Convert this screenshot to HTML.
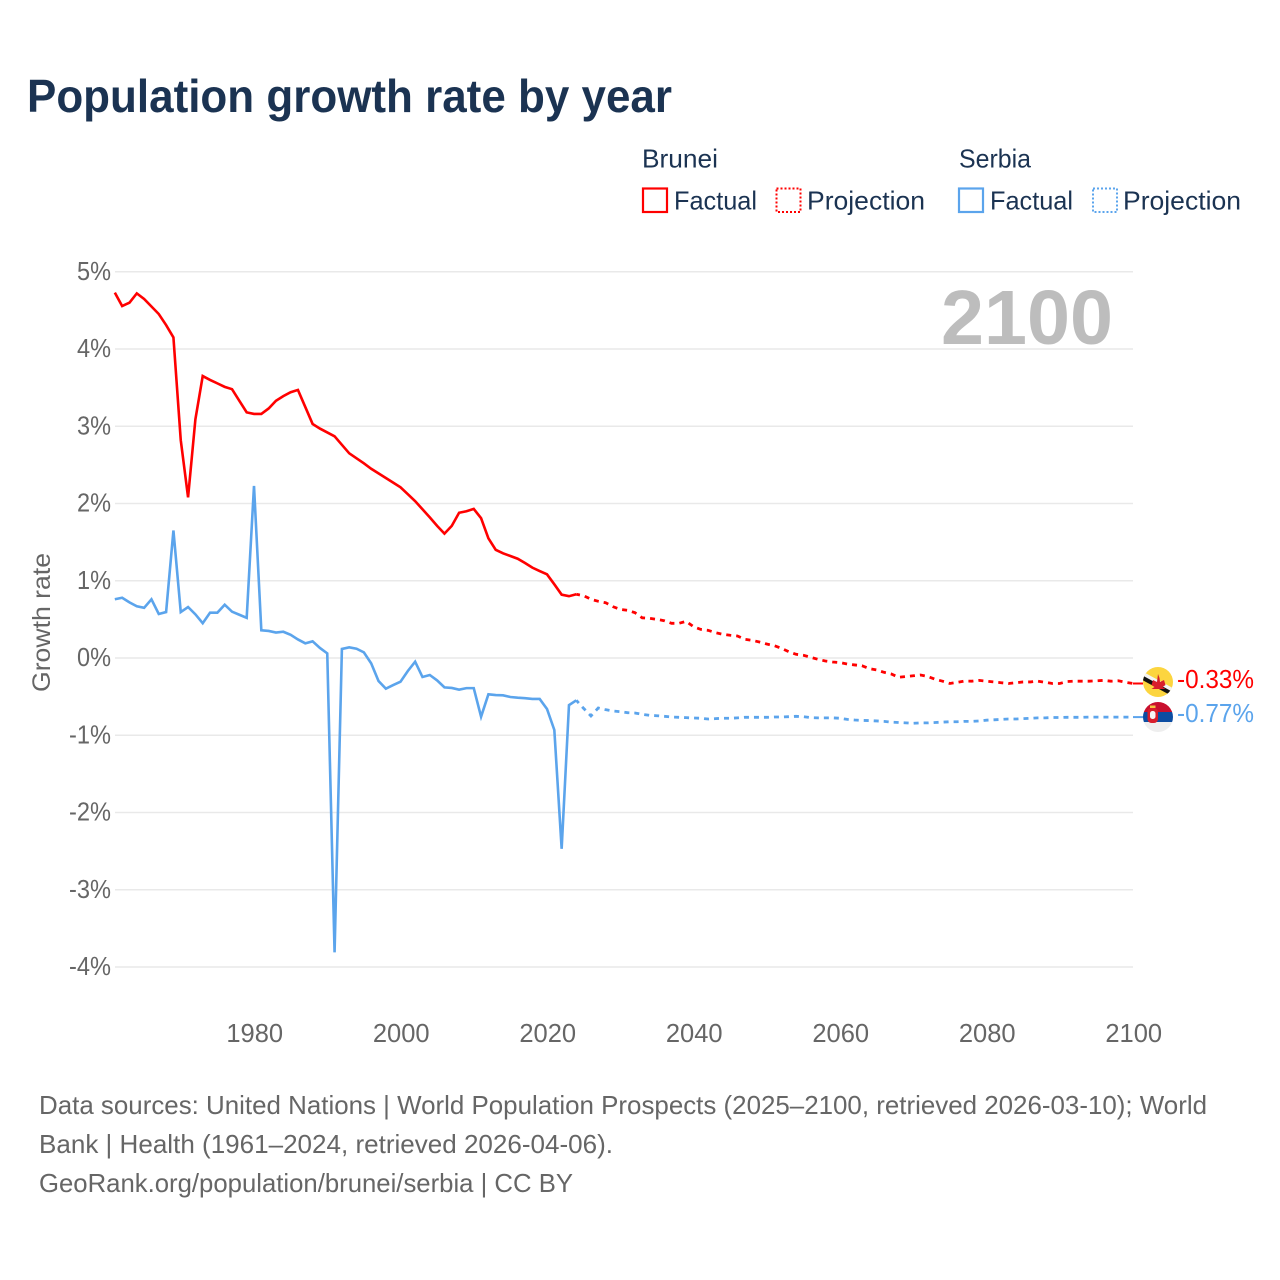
<!DOCTYPE html>
<html lang="en">
<head>
<meta charset="utf-8">
<title>Population growth rate by year</title>
<style>
html,body{margin:0;padding:0;background:#fff;}
svg{display:block;font-family:"Liberation Sans",sans-serif;}
</style>
</head>
<body>
<svg id="chart" xmlns="http://www.w3.org/2000/svg" width="1280" height="1280" viewBox="0 0 1280 1280">
  <rect width="1280" height="1280" fill="#fff"/>
  <text x="27" y="112" font-size="46" font-weight="700" fill="#1b3352" textLength="645" lengthAdjust="spacingAndGlyphs">Population growth rate by year</text>

  <g font-size="26" fill="#1b3352">
    <text x="642" y="167.500" textLength="76" lengthAdjust="spacingAndGlyphs">Brunei</text>
    <rect x="643" y="188.500" width="24" height="23.500" fill="none" stroke="#ff0000" stroke-width="2.200"/>
    <text x="674" y="209.500" textLength="83" lengthAdjust="spacingAndGlyphs">Factual</text>
    <rect x="776.500" y="188.500" width="24" height="23.500" fill="none" stroke="#ff0000" stroke-width="2" stroke-dasharray="2 2"/>
    <text x="807" y="209.500" textLength="118" lengthAdjust="spacingAndGlyphs">Projection</text>
    <text x="959" y="167.500" textLength="72" lengthAdjust="spacingAndGlyphs">Serbia</text>
    <rect x="959" y="188.500" width="24" height="23.500" fill="none" stroke="#5ba4ec" stroke-width="2.200"/>
    <text x="990" y="209.500" textLength="83" lengthAdjust="spacingAndGlyphs">Factual</text>
    <rect x="1093" y="188.500" width="24" height="23.500" fill="none" stroke="#5ba4ec" stroke-width="2" stroke-dasharray="2 2"/>
    <text x="1123" y="209.500" textLength="118" lengthAdjust="spacingAndGlyphs">Projection</text>
  </g>

  <g id="grid"></g>
  <g id="yticks" font-size="25.500" fill="#666" text-anchor="end"></g>
  <g id="xticks" font-size="25.500" fill="#666" text-anchor="middle"></g>
  <text transform="translate(50 622.500) rotate(-90)" font-size="25" fill="#666" text-anchor="middle" textLength="139" lengthAdjust="spacingAndGlyphs">Growth rate</text>
  <text x="941" y="344" font-size="77" font-weight="700" fill="#bdbdbd" textLength="172" lengthAdjust="spacingAndGlyphs">2100</text>

  <g id="series"></g>

  <defs>
    <clipPath id="clip-brunei"><circle cx="1158" cy="682" r="15"/></clipPath>
    <clipPath id="clip-serbia"><circle cx="1158" cy="717" r="15"/></clipPath>
  </defs>
  <g clip-path="url(#clip-brunei)">
    <rect x="1143" y="667" width="30" height="30" fill="#fcd53f"/>
    <line x1="1141" y1="673" x2="1176" y2="692" stroke="#f4f4f4" stroke-width="4"/>
    <line x1="1141" y1="677" x2="1176" y2="696" stroke="#111111" stroke-width="4"/>
    <path d="M1158 674 l1.500 4 l0.500 4 l4 -2 l1.500 5 l-3 2 l3 2 h-14 l3 -2 l-3 -2 l1.500 -5 l4 2 l0.500 -4 z" fill="#d81e2c"/>
  </g>
  <g clip-path="url(#clip-serbia)">
    <rect x="1143" y="702" width="30" height="10" fill="#c8102e"/>
    <rect x="1143" y="712" width="30" height="10" fill="#0c4da2"/>
    <rect x="1143" y="722" width="30" height="10" fill="#eeeeee"/>
    <rect x="1147.500" y="708" width="10.500" height="15" rx="4" fill="#d81e2c"/>
    <rect x="1150" y="711" width="5.500" height="8" rx="2.500" fill="#f6f6f6"/>
    <rect x="1150" y="705.500" width="5.500" height="2.500" fill="#f5c542"/>
  </g>
  <text x="1177" y="688" font-size="25.500" fill="#ff0000" textLength="77" lengthAdjust="spacingAndGlyphs">-0.33%</text>
  <text x="1177" y="722" font-size="25.500" fill="#5ba4ec" textLength="77" lengthAdjust="spacingAndGlyphs">-0.77%</text>

  <g font-size="26" fill="#666">
    <text x="39" y="1114" textLength="1168" lengthAdjust="spacingAndGlyphs">Data sources: United Nations | World Population Prospects (2025–2100, retrieved 2026-03-10); World</text>
    <text x="39" y="1153" textLength="574" lengthAdjust="spacingAndGlyphs">Bank | Health (1961–2024, retrieved 2026-04-06).</text>
    <text x="39" y="1192" textLength="534" lengthAdjust="spacingAndGlyphs">GeoRank.org/population/brunei/serbia | CC BY</text>
  </g>
</svg>
<script>
const yTickValues = [5, 4, 3, 2, 1, 0, -1, -2, -3, -4];
const xTickYears = [1980, 2000, 2020, 2040, 2060, 2080, 2100];
const factualStartYear = 1961;
const projectionStartYear = 2024;

const bruneiFactual = [
  4.73, 4.556, 4.60, 4.72, 4.647, 4.55, 4.453, 4.31, 4.15, 2.82,
  2.08, 3.09, 3.65, 3.60, 3.555, 3.51, 3.48, 3.33, 3.18, 3.16,
  3.16, 3.23, 3.33, 3.39, 3.44, 3.47, 3.25, 3.03, 2.97, 2.92,
  2.87, 2.76, 2.65, 2.585, 2.52, 2.45, 2.39, 2.33, 2.27, 2.21,
  2.12, 2.03, 1.925, 1.82, 1.71, 1.61, 1.71, 1.88, 1.90, 1.93,
  1.81, 1.55, 1.40, 1.355, 1.32, 1.285, 1.23, 1.17, 1.126, 1.083,
  0.954, 0.82, 0.80, 0.825
];
const bruneiProjection = [
  0.825, 0.807, 0.76, 0.734, 0.716, 0.665, 0.63, 0.617, 0.587, 0.52,
  0.514, 0.50, 0.483, 0.449, 0.449, 0.475, 0.405, 0.37, 0.358, 0.328,
  0.307, 0.294, 0.285, 0.242, 0.229, 0.207, 0.181, 0.16, 0.126, 0.082,
  0.048, 0.035, 0.009, -0.017, -0.039, -0.052, -0.06, -0.078, -0.09, -0.10,
  -0.138, -0.155, -0.185, -0.207, -0.25, -0.24, -0.23, -0.22, -0.24, -0.276,
  -0.30, -0.33, -0.315, -0.298, -0.30, -0.29, -0.30, -0.31, -0.32, -0.33,
  -0.32, -0.31, -0.31, -0.30, -0.315, -0.33, -0.33, -0.305, -0.30, -0.30,
  -0.30, -0.295, -0.29, -0.30, -0.295, -0.315, -0.33
];
const serbiaFactual = [
  0.76, 0.78, 0.72, 0.67, 0.65, 0.76, 0.57, 0.595, 1.65, 0.595,
  0.66, 0.565, 0.45, 0.587, 0.587, 0.69, 0.60, 0.56, 0.52, 2.227,
  0.358, 0.35, 0.33, 0.34, 0.30, 0.24, 0.19, 0.216, 0.13, 0.06,
  -3.81, 0.117, 0.138, 0.12, 0.073, -0.07, -0.298, -0.397, -0.35, -0.307,
  -0.168, -0.048, -0.246, -0.22, -0.29, -0.38, -0.388, -0.41, -0.39, -0.39,
  -0.76, -0.47, -0.48, -0.483, -0.505, -0.514, -0.52, -0.53, -0.53, -0.66,
  -0.932, -2.47, -0.61, -0.548
];
const serbiaProjection = [
  -0.548, -0.652, -0.75, -0.647, -0.669, -0.686, -0.695, -0.708, -0.712, -0.729,
  -0.742, -0.747, -0.755, -0.764, -0.768, -0.772, -0.777, -0.78, -0.79, -0.785,
  -0.78, -0.78, -0.775, -0.768, -0.768, -0.768, -0.768, -0.764, -0.764, -0.76,
  -0.755, -0.76, -0.772, -0.775, -0.775, -0.775, -0.78, -0.795, -0.803, -0.808,
  -0.81, -0.815, -0.82, -0.83, -0.835, -0.84, -0.845, -0.84, -0.84, -0.835,
  -0.83, -0.825, -0.825, -0.82, -0.82, -0.815, -0.805, -0.80, -0.795, -0.79,
  -0.79, -0.785, -0.78, -0.775, -0.775, -0.77, -0.77, -0.768, -0.768, -0.768,
  -0.765, -0.765, -0.765, -0.765, -0.765, -0.765, -0.765
];

const SVG_NS = 'http://www.w3.org/2000/svg';
function xScale(year) { return 254 + (year - 1980) * 7.325; }
function yScale(value) { return 658 - value * 77.25; }
function pathFrom(values, startYear) {
  return values.map(function (v, i) {
    return (i ? 'L' : 'M') + xScale(startYear + i).toFixed(2) + ' ' + yScale(v).toFixed(2);
  }).join(' ');
}

const grid = document.getElementById('grid');
const yticks = document.getElementById('yticks');
const xticks = document.getElementById('xticks');
const series = document.getElementById('series');

yTickValues.forEach(function (v) {
  const line = document.createElementNS(SVG_NS, 'line');
  
  
  line.setAttribute('x1', 115);
  line.setAttribute('x2', 1133);
  line.setAttribute('y1', yScale(v));
  line.setAttribute('y2', yScale(v));
  line.setAttribute('stroke', '#e9e9e9');
  line.setAttribute('stroke-width', '1.5');
  grid.appendChild(line);

  const label = document.createElementNS(SVG_NS, 'text');
  
  
  label.setAttribute('x', 111);
  label.setAttribute('y', yScale(v) + 8);
  label.setAttribute('textLength', v < 0 ? 42 : 34);
  label.setAttribute('lengthAdjust', 'spacingAndGlyphs');
  label.textContent = v + '%';
  yticks.appendChild(label);
});

xTickYears.forEach(function (year) {
  const label = document.createElementNS(SVG_NS, 'text');
  
  
  label.setAttribute('x', xScale(year) + 0.7);
  label.setAttribute('y', 1042);
  label.textContent = year;
  xticks.appendChild(label);
});

function addFactual(values, color, name) {
  const p = document.createElementNS(SVG_NS, 'path');
  
  
  p.setAttribute('d', pathFrom(values, factualStartYear));
  p.setAttribute('fill', 'none');
  p.setAttribute('stroke', color);
  p.setAttribute('stroke-width', '2.6');
  p.setAttribute('stroke-linejoin', 'miter');
  series.appendChild(p);
}
function addProjection(values, color, name) {
  const p = document.createElementNS(SVG_NS, 'path');
  
  
  p.setAttribute('d', pathFrom(values, projectionStartYear));
  p.setAttribute('fill', 'none');
  p.setAttribute('stroke', color);
  p.setAttribute('stroke-width', '2.8');
  p.setAttribute('stroke-dasharray', '5 5');
  p.setAttribute('stroke-dashoffset', '1.3');
  series.appendChild(p);
}
function addConnector(lastValue, color, name) {
  const c = document.createElementNS(SVG_NS, 'line');
  
  
  c.setAttribute('x1', xScale(2100));
  c.setAttribute('x2', 1143);
  c.setAttribute('y1', yScale(lastValue));
  c.setAttribute('y2', yScale(lastValue));
  c.setAttribute('stroke', color);
  c.setAttribute('stroke-width', '2');
  series.appendChild(c);
}

addFactual(serbiaFactual, '#5ba4ec', 'serbia-factual-line');
addProjection(serbiaProjection, '#5ba4ec', 'serbia-projection-line');
addConnector(serbiaProjection[serbiaProjection.length - 1], '#5ba4ec', 'serbia-end-connector');
addFactual(bruneiFactual, '#ff0000', 'brunei-factual-line');
addProjection(bruneiProjection, '#ff0000', 'brunei-projection-line');
addConnector(bruneiProjection[bruneiProjection.length - 1], '#ff0000', 'brunei-end-connector');
</script>
</body>
</html>
